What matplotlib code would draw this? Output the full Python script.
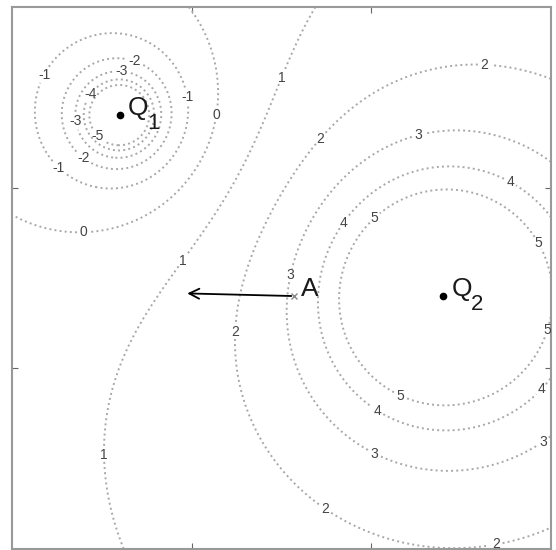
import numpy as np
import matplotlib.pyplot as plt

plt.rcParams['font.family'] = ['Liberation Sans', 'DejaVu Sans']

# charges: position and strength
charge_names = ['Q', 'Q']
charge_subs = ['1', '2']
charge_x = [0.6, 2.4]
charge_y = [2.4, 1.4]
charge_q = [-1.1, 3.3]

levels = [-5, -4, -3, -2, -1, 0, 1, 2, 3, 4, 5]

# point A and field arrow tip
point_a = (1.57, 1.40)
arrow_tip = (0.96, 1.415)

# contour label positions
label_pos = [(0.19, 2.62), (0.68, 2.69), (0.61, 2.63), (0.45, 2.51), (0.98, 2.50),
             (1.14, 2.40), (0.36, 2.37), (0.48, 2.29), (0.40, 2.17), (0.26, 2.11),
             (0.40, 1.74), (0.97, 1.58), (1.52, 2.60), (1.73, 2.26), (2.63, 2.66),
             (2.27, 2.26), (2.76, 2.01), (1.87, 1.79), (2.03, 1.82), (2.92, 1.69),
             (1.57, 1.51), (1.26, 1.20), (0.54, 0.52), (2.98, 1.21), (2.95, 0.88),
             (2.16, 0.84), (2.03, 0.76), (2.96, 0.59), (2.02, 0.53), (1.75, 0.23),
             (2.69, 0.04)]

x = np.linspace(0, 3, 401)
y = np.linspace(0, 3, 401)
X, Y = np.meshgrid(x, y)
V = np.zeros_like(X)
for cx, cy, q in zip(charge_x, charge_y, charge_q):
    V += q / np.maximum(np.hypot(X - cx, Y - cy), 1e-3)

fig = plt.figure(figsize=(5.56, 5.5), dpi=100)
ax = fig.add_axes([12 / 556, 1 / 550, 539 / 556, 542 / 550])

cs = ax.contour(X, Y, V, levels=levels, colors='#a8a8a8', linestyles=':', linewidths=1.4)
labels = ax.clabel(cs, fmt='%d', fontsize=10, colors='#444444', inline=True, inline_spacing=3,
                   manual=label_pos)
for t in labels:
    t.set_rotation(0)

# charges
for name, sub, cx, cy in zip(charge_names, charge_subs, charge_x, charge_y):
    ax.plot(cx, cy, 'o', color='black', markersize=4.5)
    ax.annotate(name, (cx, cy), xytext=(6, 5), textcoords='offset points',
                fontsize=19, color='#1a1a1a', ha='left', va='center')
    ax.annotate(sub, (cx, cy), xytext=(20, -6), textcoords='offset points',
                fontsize=16, color='#1a1a1a', ha='left', va='center')

# point A and arrow
ax.plot(*point_a, 'x', color='#888888', markersize=5, mew=1)
ax.annotate('A', point_a, xytext=(5, 5), textcoords='offset points', fontsize=19,
            color='#1a1a1a', ha='left', va='center')
ax.annotate('', xy=arrow_tip, xytext=point_a,
            arrowprops=dict(arrowstyle='->', color='black', lw=1.3, mutation_scale=18))

ax.set_xlim(0, 3)
ax.set_ylim(0, 3)
ax.set_xticks([1, 2])
ax.set_yticks([1, 2])
ax.set_xticklabels([])
ax.set_yticklabels([])
ax.tick_params(direction='in', length=4, color='#666666', top=True, right=True)
for s in ax.spines.values():
    s.set_color('#999999')
    s.set_linewidth(1.5)

fig.savefig('out.png', dpi=100)
